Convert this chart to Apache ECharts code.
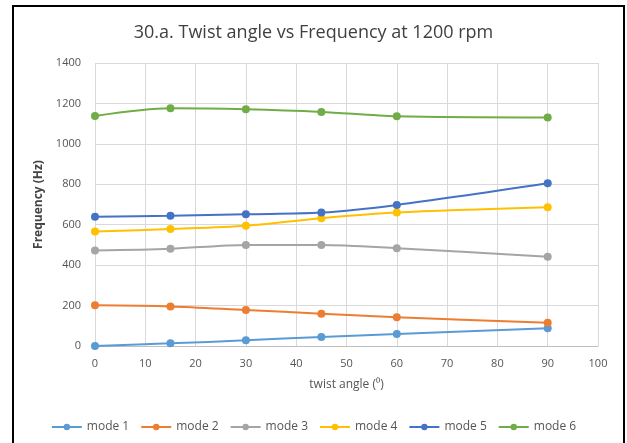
<!DOCTYPE html>
<html><head><meta charset="utf-8">
<script src="https://cdn.jsdelivr.net/npm/echarts@6/dist/echarts.min.js"></script>
<style>html,body{margin:0;padding:0;background:#fff}#c{width:627px;height:443px}</style>
</head><body><div id="c"></div>
<script>
var angles = [0, 15, 30, 45, 60, 90];
var mode1 = [0, 13, 28, 45, 59, 88];
var mode2 = [201, 196, 178, 160, 142, 115];
var mode3 = [472, 481, 500, 500, 484, 442];
var mode4 = [566, 579, 595, 632, 660, 686];
var mode5 = [640, 644, 652, 660, 698, 805];
var mode6 = [1138, 1176, 1171, 1158, 1136, 1130];
var seriesNames = ['mode 1','mode 2','mode 3','mode 4','mode 5','mode 6'];
var seriesData = [mode1, mode2, mode3, mode4, mode5, mode6];
var colors = ['#5B9BD5','#ED7D31','#A5A5A5','#FFC000','#4472C4','#70AD47'];
var font = 'Open Sans, Liberation Sans, sans-serif';
var chart = echarts.init(document.getElementById('c'));
chart.setOption({
  animation: false,
  color: colors,
  title: {
    text: '30.a. Twist angle vs Frequency at 1200 rpm',
    left: 'center', top: 19,
    textStyle: {fontFamily: font, fontSize: 18, fontWeight: 'normal', color: '#404040'}
  },
  graphic: [{
    type: 'rect', shape: {x: 13, y: 6, width: 611, height: 450},
    style: {fill: 'none', stroke: '#000', lineWidth: 2}, silent: true
  }],
  legend: {
    top: 416, left: 'center', itemWidth: 30, itemHeight: 8, itemGap: 11,
    data: seriesNames,
    textStyle: {fontFamily: font, fontSize: 12, color: '#555'}
  },
  grid: {left: 95, right: 29, top: 63, bottom: 97},
  xAxis: {
    type: 'value', min: 0, max: 100, interval: 10,
    name: 'twist angle (\u2070)', nameLocation: 'middle', nameGap: 33,
    nameTextStyle: {fontFamily: font, fontSize: 12, color: '#555'},
    axisLine: {lineStyle: {color: '#bfbfbf'}},
    axisTick: {show: false},
    axisLabel: {fontFamily: font, fontSize: 11, color: '#555', margin: 12},
    splitLine: {show: true, lineStyle: {color: '#d9d9d9'}}
  },
  yAxis: {
    type: 'value', min: 0, max: 1400, interval: 200,
    name: 'Frequency (Hz)', nameLocation: 'middle', nameGap: 38,
    nameTextStyle: {fontFamily: font, fontSize: 12, fontWeight: 'bold', color: '#444'},
    axisLine: {show: false}, axisTick: {show: false},
    axisLabel: {fontFamily: font, fontSize: 11, color: '#555', margin: 14,
      formatter: function(v){ return String(v); }},
    splitLine: {show: true, lineStyle: {color: '#d9d9d9'}}
  },
  series: seriesNames.map(function(n, i){
    return {
      name: n, type: 'line', smooth: 0.3,
      symbol: 'circle', symbolSize: 8,
      lineStyle: {width: 2, color: colors[i]},
      itemStyle: {color: colors[i]},
      data: angles.map(function(a, j){ return [a, seriesData[i][j]]; })
    };
  })
});
</script></body></html>
